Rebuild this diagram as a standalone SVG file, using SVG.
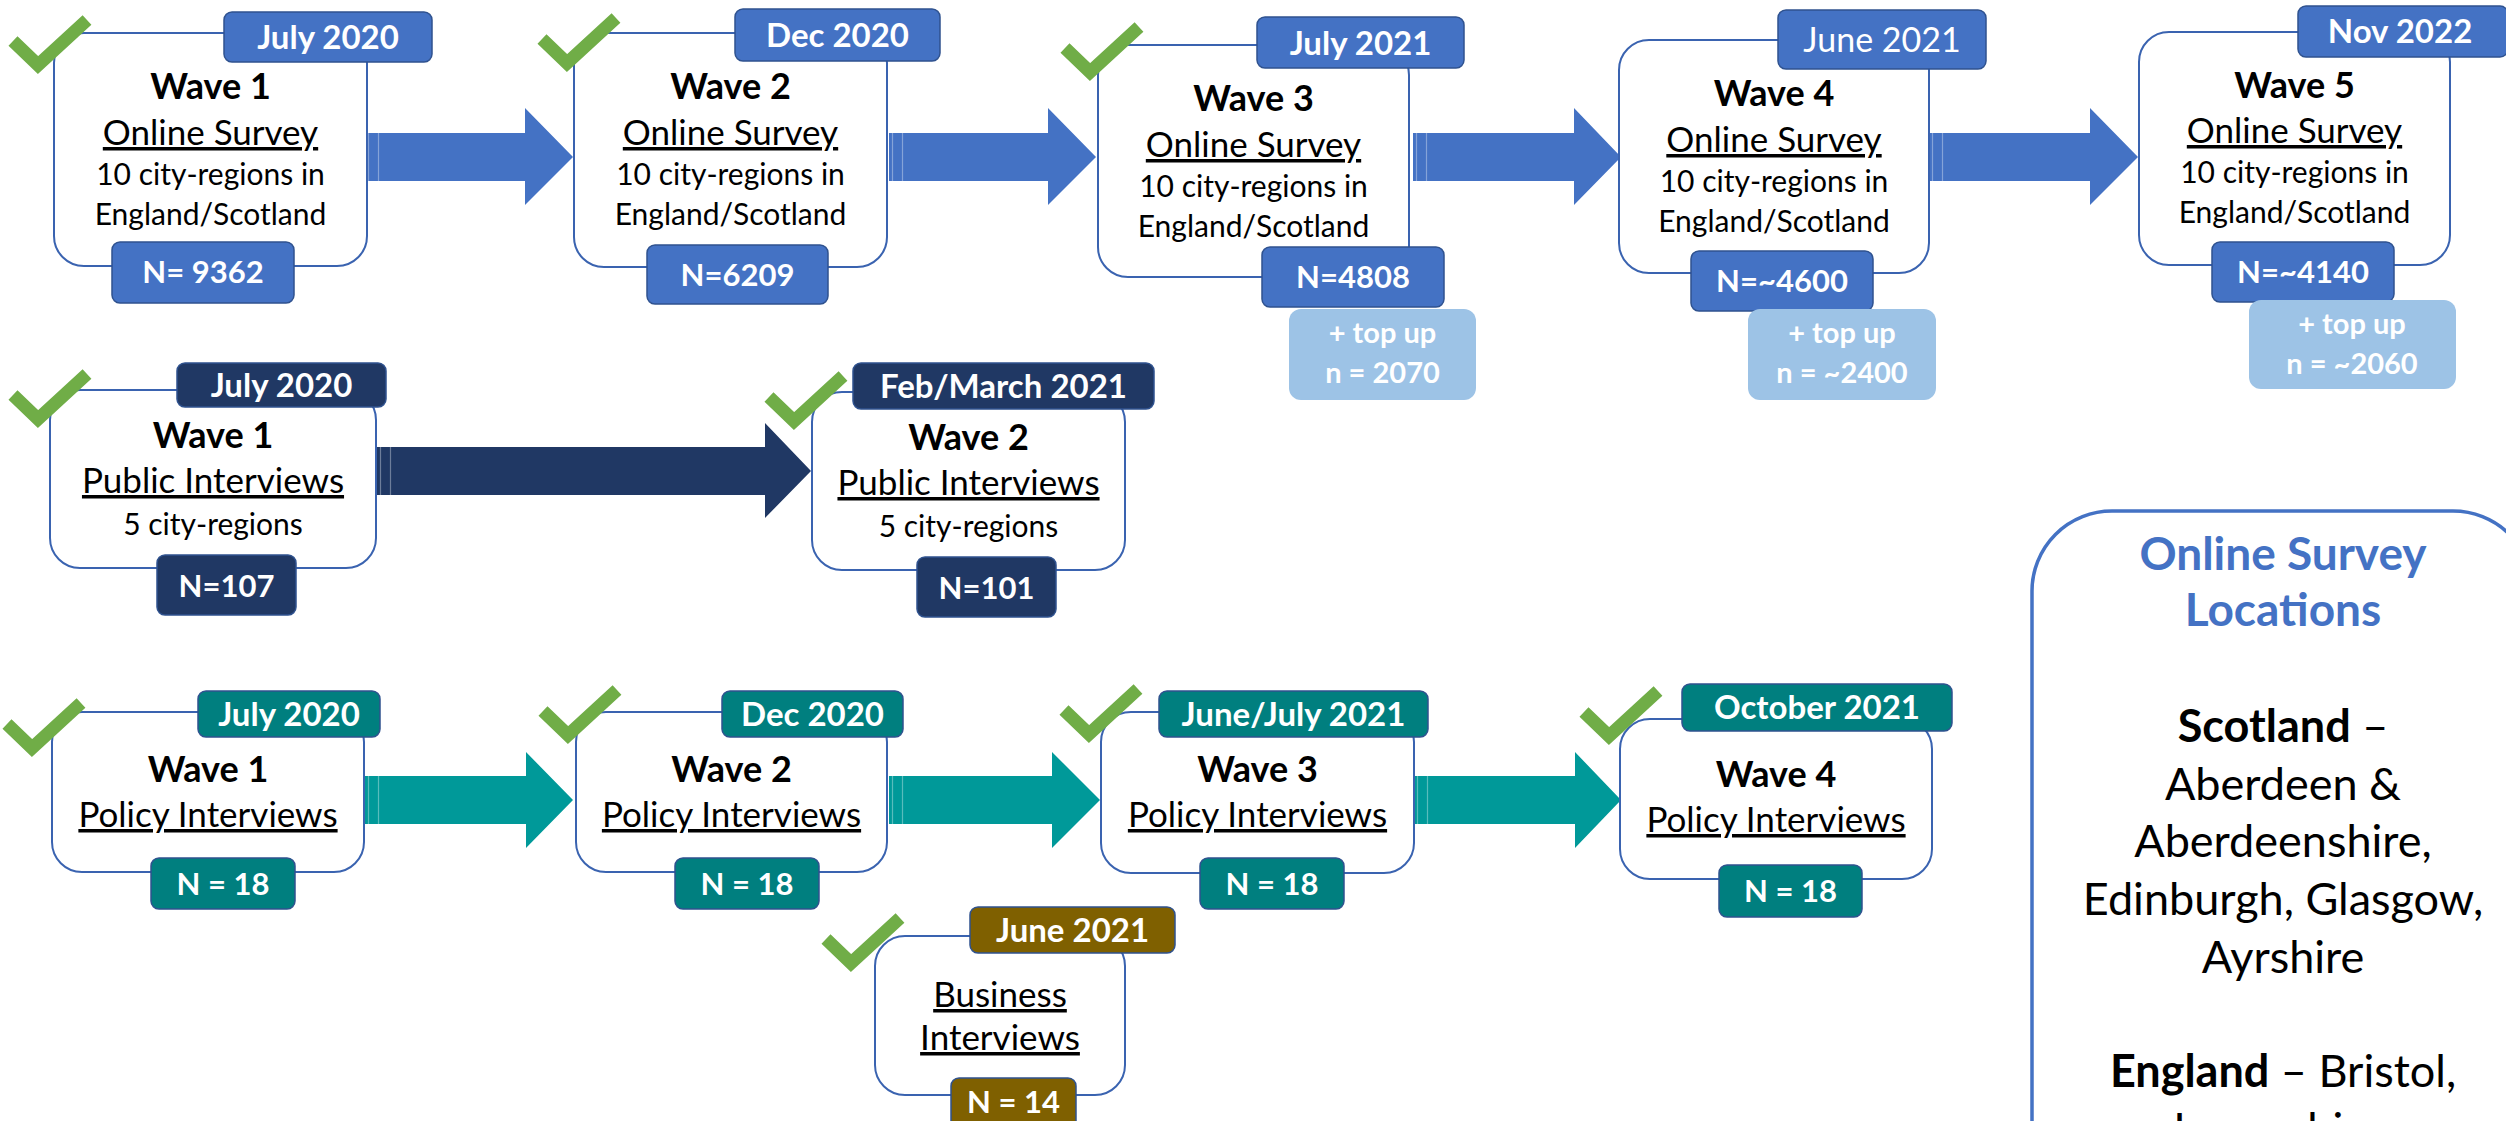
<svg xmlns="http://www.w3.org/2000/svg" width="2506" height="1121" viewBox="0 0 2506 1121">
<defs>
<style>
text{font-family:Lato,"Liberation Sans",sans-serif;text-anchor:middle}
.box{fill:#fff;stroke:#3A63B0;stroke-width:2}
.lbl{stroke:#2F528F;stroke-width:1.5}
.blue{fill:#4472C4}
.navy{fill:#203864}
.teal{fill:#007F7F}
.brown{fill:#7F6000}
.topup{fill:#9DC3E6}
.ar-blue{fill:#4472C4}
.ar-navy{fill:#203864}
.ar-teal{fill:#009999}
.stripe{stroke:#fff;stroke-opacity:.35;stroke-width:1.2}
.chk{fill:none;stroke:#70AD47;stroke-width:13;stroke-linejoin:miter}
.t1{font-weight:700;font-size:36px;fill:#000}
.t2{font-size:35px;fill:#000;text-decoration:underline}
.t3{font-size:30px;fill:#000}
.tl{font-weight:700;font-size:33px;fill:#fff}
.tlr{font-size:34px;fill:#fff}
.tn{font-weight:700;font-size:31px;fill:#fff}
.tt{font-weight:700;font-size:29px;fill:#fff}
.leg{fill:#fff;stroke:#4472C4;stroke-width:3.5}
.lh{font-weight:700;font-size:46px;fill:#4472C4}
.lt{font-size:45px;fill:#000}
</style>
<path id="check" class="chk" d="M4 24 L29 48 L78 3"/>
</defs>

<g id="connectors">
<g id="arrow-os-1"><path class="ar-blue" d="M365 133 H525 V108 L573 157 L525 205 V181 H365 Z"/><path class="stripe" d="M368.5 133 V181 M378.5 133 V181"/></g>
<g id="arrow-os-2"><path class="ar-blue" d="M889 133 H1048 V108 L1096 157 L1048 205 V181 H889 Z"/><path class="stripe" d="M892.5 133 V181 M902.5 133 V181"/></g>
<g id="arrow-os-3"><path class="ar-blue" d="M1413 133 H1574 V108 L1621 157 L1574 205 V181 H1413 Z"/><path class="stripe" d="M1416.5 133 V181 M1426.5 133 V181"/></g>
<g id="arrow-os-4"><path class="ar-blue" d="M1929 133 H2090 V108 L2138 157 L2090 205 V181 H1929 Z"/><path class="stripe" d="M1932.5 133 V181 M1942.5 133 V181"/></g>
<g id="arrow-pi-1"><path class="ar-navy" d="M377 447 H765 V423 L811 471 L765 518 V495 H377 Z"/><path class="stripe" d="M380.5 447 V495 M390.5 447 V495"/></g>
<g id="arrow-pol-1"><path class="ar-teal" d="M365 776 H526 V752 L573 800 L526 848 V824 H365 Z"/><path class="stripe" d="M368.5 776 V824 M378.5 776 V824"/></g>
<g id="arrow-pol-2"><path class="ar-teal" d="M889 776 H1052 V752 L1100 800 L1052 848 V824 H889 Z"/><path class="stripe" d="M892.5 776 V824 M902.5 776 V824"/></g>
<g id="arrow-pol-3"><path class="ar-teal" d="M1414 776 H1575 V752 L1621 800 L1575 848 V824 H1414 Z"/><path class="stripe" d="M1417.5 776 V824 M1427.5 776 V824"/></g>
</g>

<g id="online-wave1">
<rect class="box" x="54" y="33" width="313" height="233" rx="30"/>
<rect class="lbl blue" x="224" y="12" width="208" height="50" rx="8"/>
<text class="tl" x="328" y="49">July 2020</text>
<rect class="lbl blue" x="112" y="242" width="182" height="61" rx="8"/>
<text class="tn" x="203" y="283">N= 9362</text>
<text class="t1" x="210.5" y="99">Wave 1</text>
<text class="t2" x="210.5" y="145">Online Survey</text>
<text class="t3" x="210.5" y="185">10 city-regions in</text>
<text class="t3" x="210.5" y="225">England/Scotland</text>
<use href="#check" x="9" y="17"/>
</g>

<g id="online-wave2">
<rect class="box" x="574" y="33" width="313" height="234" rx="30"/>
<rect class="lbl blue" x="735" y="9" width="205" height="52" rx="8"/>
<text class="tl" x="837.5" y="47">Dec 2020</text>
<rect class="lbl blue" x="647" y="245" width="181" height="59" rx="8"/>
<text class="tn" x="737.5" y="286">N=6209</text>
<text class="t1" x="730.5" y="99">Wave 2</text>
<text class="t2" x="730.5" y="145">Online Survey</text>
<text class="t3" x="730.5" y="185">10 city-regions in</text>
<text class="t3" x="730.5" y="225">England/Scotland</text>
<use href="#check" x="538" y="15"/>
</g>

<g id="online-wave3">
<rect class="box" x="1098" y="45" width="311" height="232" rx="30"/>
<rect class="lbl blue" x="1257" y="17" width="207" height="51" rx="8"/>
<text class="tl" x="1360.5" y="55">July 2021</text>
<rect class="lbl blue" x="1262" y="247" width="182" height="60" rx="8"/>
<text class="tn" x="1353" y="288">N=4808</text>
<rect class="topup" x="1289" y="309" width="187" height="91" rx="12"/>
<text class="tt" x="1382.5" y="343">+ top up</text>
<text class="tt" x="1382.5" y="383">n = 2070</text>
<text class="t1" x="1253.5" y="111">Wave 3</text>
<text class="t2" x="1253.5" y="157">Online Survey</text>
<text class="t3" x="1253.5" y="197">10 city-regions in</text>
<text class="t3" x="1253.5" y="237">England/Scotland</text>
<use href="#check" x="1061" y="24"/>
</g>

<g id="online-wave4">
<rect class="box" x="1619" y="40" width="310" height="233" rx="30"/>
<rect class="lbl blue" x="1778" y="10" width="208" height="59" rx="8"/>
<text class="tlr" x="1882" y="52">June 2021</text>
<rect class="lbl blue" x="1691" y="251" width="182" height="60" rx="8"/>
<text class="tn" x="1782" y="292">N=~4600</text>
<rect class="topup" x="1748" y="309" width="188" height="91" rx="12"/>
<text class="tt" x="1842" y="343">+ top up</text>
<text class="tt" x="1842" y="383">n = ~2400</text>
<text class="t1" x="1774" y="106">Wave 4</text>
<text class="t2" x="1774" y="152">Online Survey</text>
<text class="t3" x="1774" y="192">10 city-regions in</text>
<text class="t3" x="1774" y="232">England/Scotland</text>
</g>

<g id="online-wave5">
<rect class="box" x="2139" y="32" width="311" height="233" rx="30"/>
<rect class="lbl blue" x="2298" y="6" width="210" height="51" rx="8"/>
<text class="tl" x="2400" y="43">Nov 2022</text>
<rect class="lbl blue" x="2212" y="242" width="182" height="60" rx="8"/>
<text class="tn" x="2303" y="283">N=~4140</text>
<rect class="topup" x="2249" y="300" width="207" height="89" rx="12"/>
<text class="tt" x="2352" y="334">+ top up</text>
<text class="tt" x="2352" y="374">n = ~2060</text>
<text class="t1" x="2294.5" y="98">Wave 5</text>
<text class="t2" x="2294.5" y="143">Online Survey</text>
<text class="t3" x="2294.5" y="183">10 city-regions in</text>
<text class="t3" x="2294.5" y="223">England/Scotland</text>
</g>

<g id="public-wave1">
<rect class="box" x="50" y="390" width="326" height="178" rx="30"/>
<rect class="lbl navy" x="177" y="363" width="209" height="44" rx="8"/>
<text class="tl" x="281.5" y="397">July 2020</text>
<rect class="lbl navy" x="157" y="555" width="139" height="60" rx="8"/>
<text class="tn" x="226.5" y="597">N=107</text>
<text class="t1" x="213" y="448">Wave 1</text>
<text class="t2" x="213" y="493">Public Interviews</text>
<text class="t3" x="213" y="535">5 city-regions</text>
<use href="#check" x="9" y="371"/>
</g>

<g id="public-wave2">
<rect class="box" x="812" y="392" width="313" height="178" rx="30"/>
<rect class="lbl navy" x="853" y="363" width="301" height="46" rx="8"/>
<text class="tl" x="1003.5" y="398">Feb/March 2021</text>
<rect class="lbl navy" x="917" y="557" width="139" height="60" rx="8"/>
<text class="tn" x="986.5" y="599">N=101</text>
<text class="t1" x="968.5" y="450">Wave 2</text>
<text class="t2" x="968.5" y="495">Public Interviews</text>
<text class="t3" x="968.5" y="537">5 city-regions</text>
<use href="#check" x="765" y="373"/>
</g>

<g id="policy-wave1">
<rect class="box" x="52" y="712" width="312" height="160" rx="30"/>
<rect class="lbl teal" x="198" y="691" width="182" height="46" rx="8"/>
<text class="tl" x="289" y="726">July 2020</text>
<rect class="lbl teal" x="151" y="858" width="144" height="51" rx="8"/>
<text class="tn" x="223" y="895">N = 18</text>
<text class="t1" x="208" y="782">Wave 1</text>
<text class="t2" x="208" y="827">Policy Interviews</text>
<use href="#check" x="3" y="700"/>
</g>

<g id="policy-wave2">
<rect class="box" x="576" y="712" width="311" height="160" rx="30"/>
<rect class="lbl teal" x="722" y="691" width="181" height="46" rx="8"/>
<text class="tl" x="812.5" y="726">Dec 2020</text>
<rect class="lbl teal" x="675" y="858" width="144" height="51" rx="8"/>
<text class="tn" x="747" y="895">N = 18</text>
<text class="t1" x="731.5" y="782">Wave 2</text>
<text class="t2" x="731.5" y="827">Policy Interviews</text>
<use href="#check" x="539" y="687"/>
</g>

<g id="policy-wave3">
<rect class="box" x="1101" y="712" width="313" height="161" rx="30"/>
<rect class="lbl teal" x="1159" y="691" width="269" height="46" rx="8"/>
<text class="tl" x="1293.5" y="726">June/July 2021</text>
<rect class="lbl teal" x="1200" y="858" width="144" height="51" rx="8"/>
<text class="tn" x="1272" y="895">N = 18</text>
<text class="t1" x="1257.5" y="782">Wave 3</text>
<text class="t2" x="1257.5" y="827">Policy Interviews</text>
<use href="#check" x="1060" y="686"/>
</g>

<g id="policy-wave4">
<rect class="box" x="1620" y="719" width="312" height="160" rx="30"/>
<rect class="lbl teal" x="1682" y="684" width="270" height="47" rx="8"/>
<text class="tl" x="1817" y="719">October 2021</text>
<rect class="lbl teal" x="1719" y="865" width="143" height="52" rx="8"/>
<text class="tn" x="1790.5" y="902">N = 18</text>
<text class="t1" x="1776" y="787">Wave 4</text>
<text class="t2" x="1776" y="832">Policy Interviews</text>
<use href="#check" x="1580" y="688"/>
</g>

<g id="business">
<rect class="box" x="875" y="936" width="250" height="159" rx="30"/>
<rect class="lbl brown" x="970" y="907" width="205" height="46" rx="8"/>
<text class="tl" x="1072.5" y="942">June 2021</text>
<rect class="lbl brown" x="951" y="1078" width="125" height="55" rx="8"/>
<text class="tn" x="1013.5" y="1113">N = 14</text>
<text class="t2" x="1000" y="1007">Business</text>
<text class="t2" x="1000" y="1050">Interviews</text>
<use href="#check" x="822" y="915"/>
</g>

<g id="legend">
<rect class="leg" x="2032" y="511" width="501" height="700" rx="80"/>
<text class="lh" x="2283" y="570">Online Survey</text>
<text class="lh" x="2283" y="626">Locations</text>
<text class="lt" x="2283" y="742"><tspan font-weight="700">Scotland</tspan> –</text>
<text class="lt" x="2283" y="800">Aberdeen &amp;</text>
<text class="lt" x="2283" y="857">Aberdeenshire,</text>
<text class="lt" x="2283" y="915">Edinburgh, Glasgow,</text>
<text class="lt" x="2283" y="973">Ayrshire</text>
<text class="lt" x="2283" y="1087"><tspan font-weight="700">England</tspan> – Bristol,</text>
<text class="lt" x="2283" y="1145">Lancashire,</text>
</g>
</svg>
